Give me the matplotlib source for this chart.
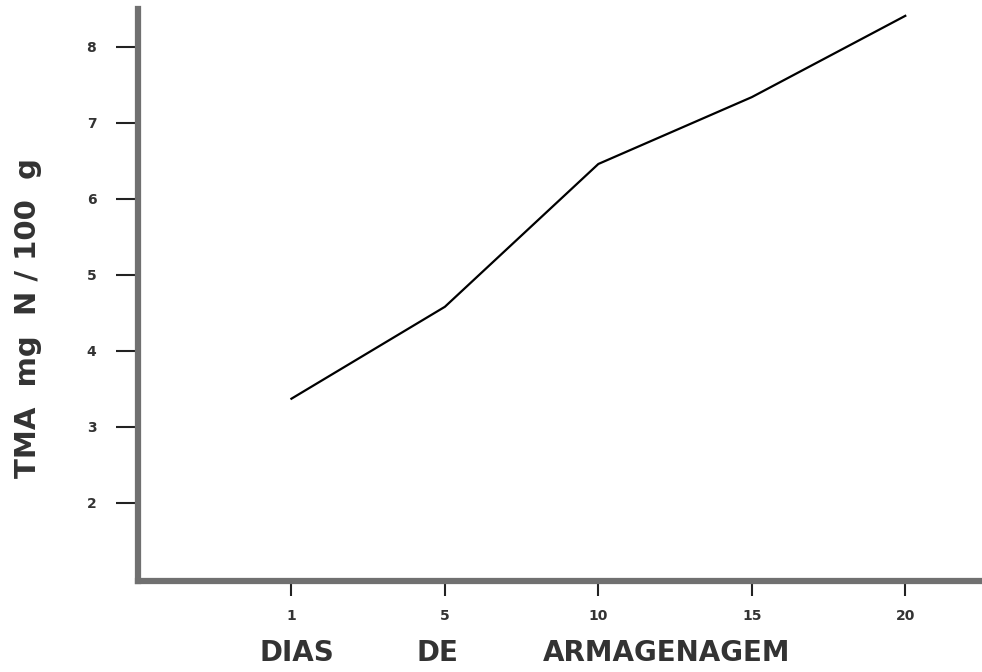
import matplotlib
matplotlib.use('Agg')
import matplotlib.pyplot as plt
import numpy as np

# Datos
dias = ['1', '5', '10', '15', '20']
tma = [3.37, 4.58, 6.46, 7.34, 8.41]
y_ticks = [2, 3, 4, 5, 6, 7, 8]

fig = plt.figure(figsize=(9.82, 6.72), dpi=100)
ax = fig.add_axes([0.1405, 0.1354, 0.8595, 0.8512])

pos = np.arange(1, len(dias) + 1)
ax.plot(pos, tma, color='black', linewidth=1.6)

ax.set_xlim(0, 5.5)
ax.set_ylim(0.97, 8.5)
ax.set_xticks(pos)
ax.set_xticklabels(dias)
ax.set_yticks(y_ticks)

for s in ['top', 'right']:
    ax.spines[s].set_visible(False)
for s in ['left', 'bottom']:
    ax.spines[s].set_linewidth(4.5)
    ax.spines[s].set_color('#707070')

ax.tick_params(axis='y', direction='out', length=16, width=1.5, color='#222222',
               labelsize=10, pad=14)
ax.tick_params(axis='x', direction='out', length=11, width=1.5, color='#222222',
               labelsize=10, pad=9)
for lab in ax.get_xticklabels() + ax.get_yticklabels():
    lab.set_fontweight('bold')
    lab.set_color('#333333')

fig.text(0.029, 0.527, 'TMA  mg  N / 100  g', rotation=90, ha='center', va='center',
         fontsize=21, fontweight='bold', color='#333333')

# Etiqueta del eje x en tres palabras
fig.text(0.302, 0.028, 'DIAS', ha='center', va='center', fontsize=20, fontweight='bold', color='#333333')
fig.text(0.445, 0.028, 'DE', ha='center', va='center', fontsize=20, fontweight='bold', color='#333333')
fig.text(0.679, 0.028, 'ARMAGENAGEM', ha='center', va='center', fontsize=20, fontweight='bold', color='#333333')

plt.savefig('out.png', dpi=100)
